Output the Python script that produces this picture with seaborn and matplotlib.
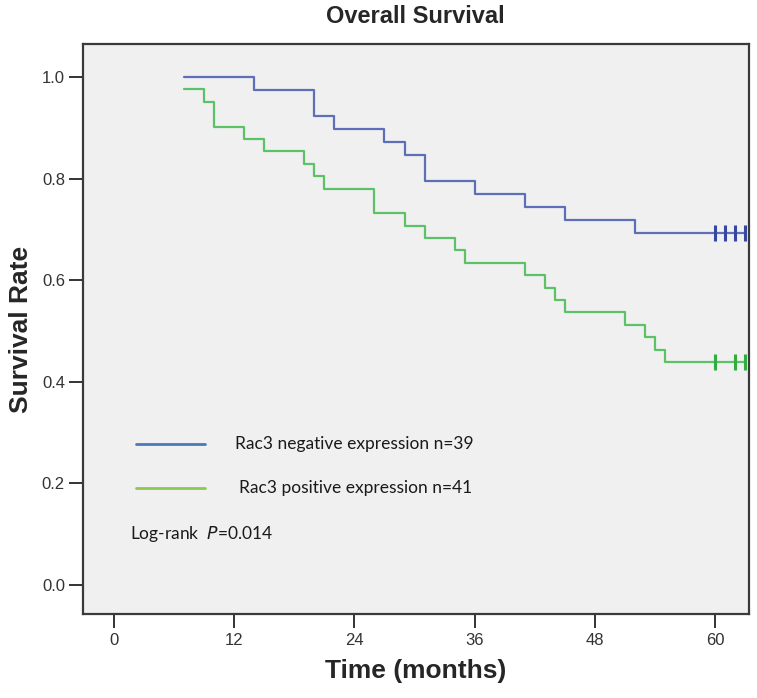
import matplotlib

matplotlib.use("Agg")

import matplotlib.pyplot as plt
import numpy as np
import pandas as pd
import seaborn as sns

# Kaplan-Meier steps (months, survival rate)
neg_times = [7, 14, 20, 22, 27, 29, 31, 36, 41, 45, 52, 63]
neg_surv = [1.0, 0.974, 0.923, 0.897, 0.872, 0.846, 0.795, 0.769, 0.744, 0.718, 0.692, 0.692]
neg_censor = [60, 61, 62, 63]

pos_times = [7, 9, 10, 13, 15, 19, 20, 21, 26, 29, 31, 34, 35, 41, 43, 44, 45, 51, 53, 54, 55, 63]
pos_surv = [0.976, 0.951, 0.902, 0.878, 0.854, 0.829, 0.805, 0.780, 0.732, 0.707, 0.683,
            0.659, 0.634, 0.610, 0.585, 0.561, 0.537, 0.512, 0.488, 0.463, 0.439, 0.439]
pos_censor = [60, 62, 63]

groups = ["Rac3 negative expression n=39", "Rac3 positive expression n=41"]
x_ticks = [0, 12, 24, 36, 48, 60]
y_ticks = [0.0, 0.2, 0.4, 0.6, 0.8, 1.0]

curve_colors = {groups[0]: "#5d6fb9", groups[1]: "#5cc167"}
tick_colors = {groups[0]: "#3447a3", groups[1]: "#2fae3d"}
legend_colors = {groups[0]: "#4b79b8", groups[1]: "#8dc850"}

df = pd.concat([
    pd.DataFrame({"time": neg_times, "surv": neg_surv, "group": groups[0]}),
    pd.DataFrame({"time": pos_times, "surv": pos_surv, "group": groups[1]}),
])


def censor_frame(times, surv_times, surv, group):
    # censored cases sit on the last step of the curve
    vals = [surv[np.searchsorted(surv_times, t, side="right") - 1] for t in times]
    return pd.DataFrame({"time": times, "surv": vals, "group": group})


cens = pd.concat([
    censor_frame(neg_censor, neg_times, neg_surv, groups[0]),
    censor_frame(pos_censor, pos_times, pos_surv, groups[1]),
])

sns.set_style("white")
arial = ["Liberation Sans", "DejaVu Sans"]

fig = plt.figure(figsize=(7.57, 6.98), dpi=100)
ax = fig.add_axes([0.1096, 0.1203, 0.88, 0.8167])
ax.set_facecolor("#f0f0f0")

sns.lineplot(data=df, x="time", y="surv", hue="group", palette=curve_colors,
             drawstyle="steps-post", estimator=None, linewidth=1.6, legend=False, ax=ax)
for g in groups:
    sub = cens[cens["group"] == g]
    ax.plot(sub["time"], sub["surv"], linestyle="none", marker="|", markersize=11,
            markeredgewidth=2.2, color=tick_colors[g])

ax.set_xlim(-3.1, 63.4)
ax.set_ylim(-0.057, 1.065)
ax.set_xticks(x_ticks)
ax.set_yticks(y_ticks)
ax.set_yticklabels([f"{v:.1f}" for v in y_ticks])
ax.tick_params(axis="both", direction="out", length=10, width=1.4, color="#333333",
               labelsize=12, labelcolor="#333333", left=True, bottom=True)
ax.tick_params(axis="y", pad=3)
for lbl in ax.get_xticklabels() + ax.get_yticklabels():
    lbl.set_family(arial)
for s in ax.spines.values():
    s.set_color("#3a3a3a")
    s.set_linewidth(1.6)

ax.set_xlabel("Time (months)", family=arial, fontsize=19, fontweight="bold", labelpad=8)
ax.set_ylabel("Survival Rate", family=arial, fontsize=19, fontweight="bold", labelpad=6)
fig.text(0.548, 0.977, "Overall Survival", family=arial, fontsize=17, fontweight="bold",
         ha="center", va="center")

# hand-drawn legend as in the original figure
text_font = ["Lato", "DejaVu Sans"]
for i, g in enumerate(groups):
    y = 0.298 - i * 0.077
    ax.plot([0.08, 0.183], [y, y], transform=ax.transAxes, color=legend_colors[g], linewidth=2)
    ax.text(0.228 + i * 0.006, y, g, transform=ax.transAxes, family=text_font, fontsize=12.5,
            va="center", color="#1a1a1a")
ax.text(0.071, 0.140, "Log-rank  $\\it{P}$=0.014", transform=ax.transAxes, family=text_font,
        fontsize=12.5, va="center", color="#1a1a1a")

fig.savefig("out.png", dpi=100)
